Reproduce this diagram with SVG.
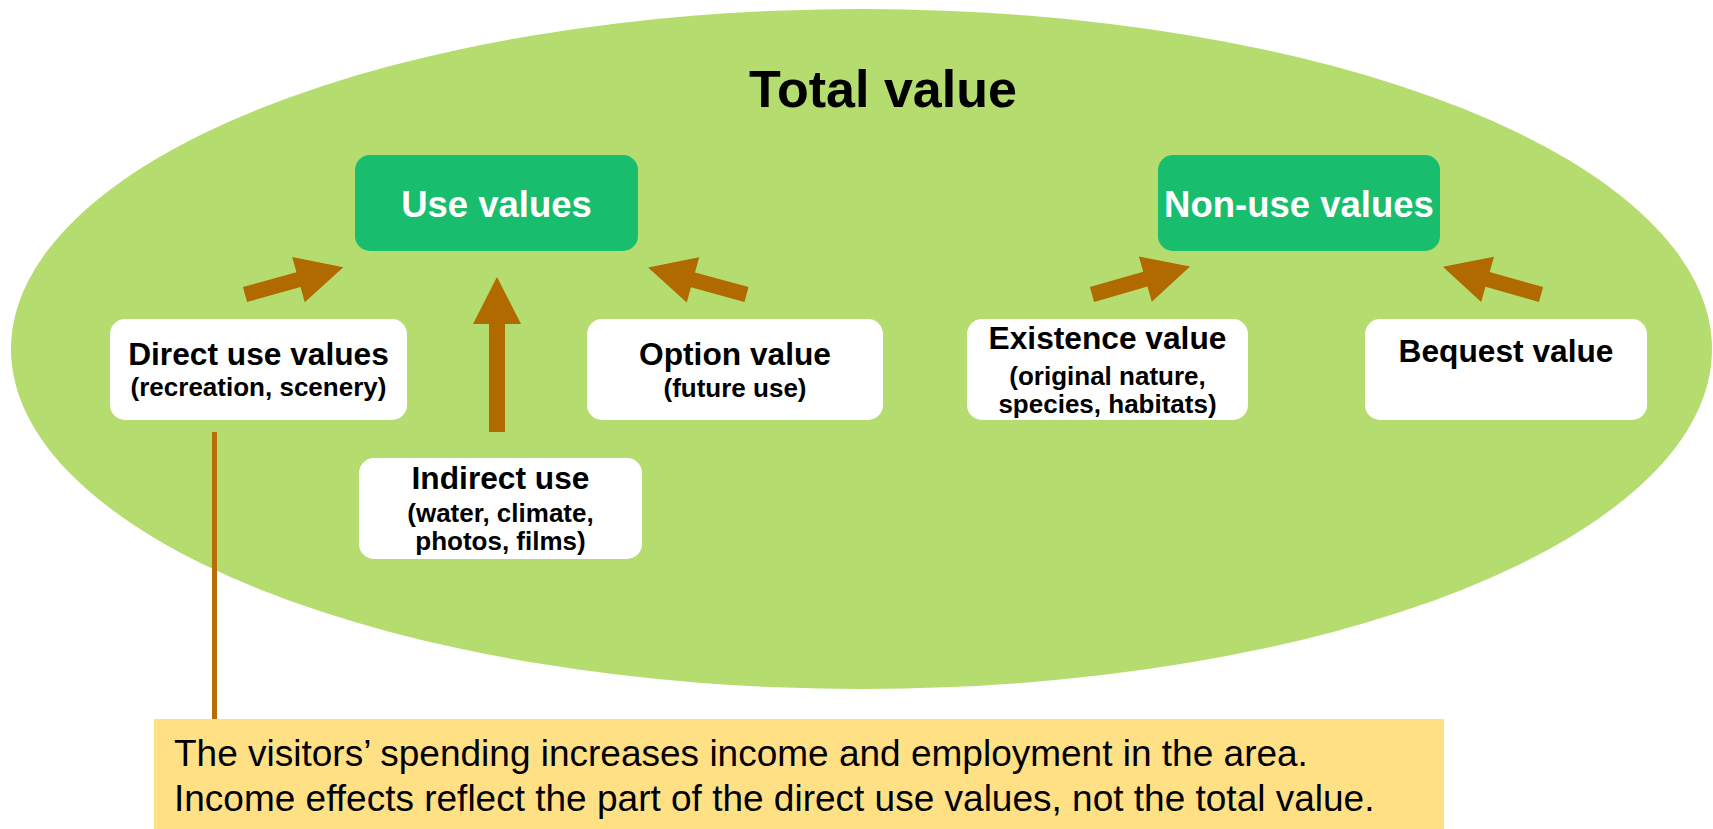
<svg xmlns="http://www.w3.org/2000/svg" xmlns:xlink="http://www.w3.org/1999/xlink" width="1713" height="829" viewBox="0 0 1713 829">
  <style>
    .title { font-family: "Liberation Sans", Arial, sans-serif; font-weight: bold; font-size: 52px; fill: #000; text-anchor: middle; }
    .head { font-family: "Liberation Sans", Arial, sans-serif; font-weight: bold; font-size: 36.5px; fill: #fff; text-anchor: middle; }
    .main { font-family: "Liberation Sans", Arial, sans-serif; font-weight: bold; font-size: 31.7px; fill: #000; text-anchor: middle; }
    .sub { font-family: "Liberation Sans", Arial, sans-serif; font-weight: bold; font-size: 26px; fill: #000; text-anchor: middle; }
    .note { font-family: "Liberation Sans", Arial, sans-serif; font-size: 37px; fill: #000; }
    .green { fill: #18BE6E; }
    .white { fill: #fff; }
    .arrow { fill: #B06A00; }
  </style>
  <defs>
    <!-- block arrow pointing along +x, tail centred at the origin -->
    <path id="blockArrow" d="M0,-7.7 L55.5,-7.7 L55.5,-23.5 L102,0 L55.5,23.5 L55.5,7.7 L0,7.7 Z"/>
  </defs>

  <!-- background region -->
  <ellipse id="total" cx="861.5" cy="349" rx="850.5" ry="340" fill="#B4DC6E"/>
  <text class="title" x="883" y="107">Total value</text>

  <g id="use-values">
    <rect class="green" x="355" y="155" width="283" height="96" rx="15"/>
    <text class="head" x="496.5" y="217">Use values</text>
  </g>

  <g id="non-use-values">
    <rect class="green" x="1158" y="155" width="282" height="96" rx="15"/>
    <text class="head" x="1299" y="217">Non-use values</text>
  </g>

  <g id="direct-use">
    <rect class="white" x="110" y="319" width="297" height="101" rx="15"/>
    <text class="main" x="258.5" y="365">Direct use values</text>
    <text class="sub" x="258.5" y="396">(recreation, scenery)</text>
  </g>

  <g id="option-value">
    <rect class="white" x="587" y="319" width="296" height="101" rx="15"/>
    <text class="main" x="735" y="365">Option value</text>
    <text class="sub" x="735" y="397">(future use)</text>
  </g>

  <g id="indirect-use">
    <rect class="white" x="359" y="458" width="283" height="101" rx="15"/>
    <text class="main" x="500.5" y="489">Indirect use</text>
    <text class="sub" x="500.5" y="522">(water, climate,</text>
    <text class="sub" x="500.5" y="550">photos, films)</text>
  </g>

  <g id="existence-value">
    <rect class="white" x="967" y="319" width="281" height="101" rx="15"/>
    <text class="main" x="1107.5" y="349">Existence value</text>
    <text class="sub" x="1107.5" y="385">(original nature,</text>
    <text class="sub" x="1107.5" y="413">species, habitats)</text>
  </g>

  <g id="bequest-value">
    <rect class="white" x="1365" y="319" width="282" height="101" rx="15"/>
    <text class="main" x="1506" y="362">Bequest value</text>
  </g>

  <g id="income-note">
    <rect x="154" y="719" width="1290" height="110" fill="#FFE085"/>
    <text class="note" x="174" y="766">The visitors’ spending increases income and employment in the area.</text>
    <text class="note" x="174" y="811">Income effects reflect the part of the direct use values, not the total value.</text>
  </g>

  <g id="connectors">
    <use class="arrow" xlink:href="#blockArrow" transform="translate(245,294.5) rotate(-15.5)"/>
    <use class="arrow" xlink:href="#blockArrow" transform="translate(746.5,294.5) rotate(195.3)"/>
    <use class="arrow" xlink:href="#blockArrow" transform="translate(1092,294.5) rotate(-16)"/>
    <use class="arrow" xlink:href="#blockArrow" transform="translate(1541,294.5) rotate(195.8)"/>
    <polygon class="arrow" points="489,432 489,324 473,324 497,277 521,324 505,324 505,432"/>
    <line x1="214.5" y1="432" x2="214.5" y2="719" stroke="#B86E08" stroke-width="5"/>
  </g>
</svg>
